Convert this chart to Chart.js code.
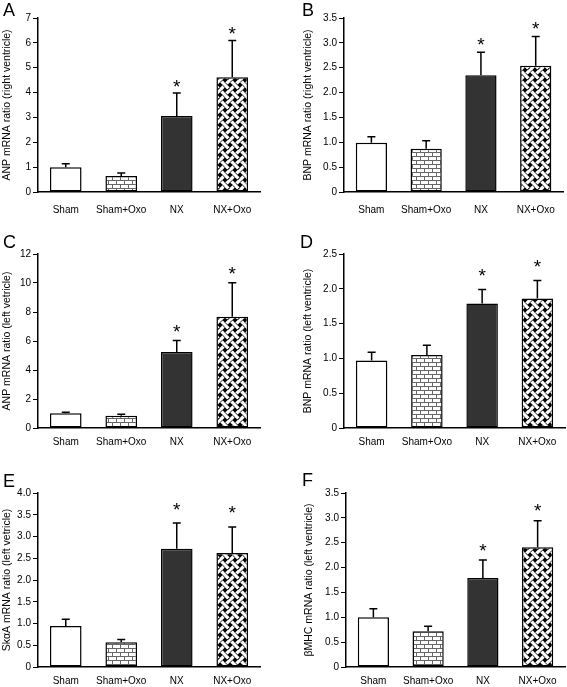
<!DOCTYPE html>
<html>
<head>
<meta charset="utf-8">
<script src="https://cdn.jsdelivr.net/npm/chart.js@4.4.1/dist/chart.umd.min.js"></script>
<style>
  body { margin: 0; background: #fff; }
  #fig { position: relative; width: 567px; height: 687px; overflow: hidden; font-family: "Liberation Sans", Arial, sans-serif; }
  #fig canvas { position: absolute; }
  .letter { position: absolute; font-size: 18px; line-height: 18px; color: #000; }
</style>
</head>
<body>
<div id="fig"></div>
<script>
const groups = ['Sham', 'Sham+Oxo', 'NX', 'NX+Oxo'];
const significant = [false, false, true, true];

// A - ANP, right ventricle
const anpRight = [1.00, 0.64, 3.06, 4.62];
const anpRightErr = [0.14, 0.12, 0.92, 1.47];
// B - BNP, right ventricle
const bnpRight = [0.99, 0.87, 2.35, 2.54];
const bnpRightErr = [0.12, 0.16, 0.46, 0.59];
// C - ANP, left ventricle
const anpLeft = [1.02, 0.85, 5.25, 7.67];
const anpLeftErr = [0.07, 0.10, 0.79, 2.35];
// D - BNP, left ventricle
const bnpLeft = [0.97, 1.05, 1.79, 1.86];
const bnpLeftErr = [0.12, 0.14, 0.20, 0.26];
// E - SkaA, left ventricle
const skaLeft = [0.94, 0.57, 2.72, 2.62];
const skaLeftErr = [0.16, 0.06, 0.59, 0.60];
// F - bMHC, left ventricle
const bmhcLeft = [1.00, 0.72, 1.79, 2.41];
const bmhcLeftErr = [0.17, 0.10, 0.36, 0.53];

const yMaxes = [7, 3.5, 12, 2.5, 4.0, 3.5];
const ySteps = [1, 0.5, 2, 0.5, 0.5, 0.5];

Chart.defaults.font.family = '"Liberation Sans", Arial, sans-serif';

// fill patterns
function brickPattern() {
    let c = document.createElement('canvas');
    c.width = 8; c.height = 8;
    let g = c.getContext('2d');
    g.fillStyle = '#fff';
    g.fillRect(0, 0, 8, 8);
    g.fillStyle = '#666';
    g.fillRect(0, 0, 8, 1);
    g.fillRect(0, 4, 8, 1);
    g.fillRect(0, 0, 1, 4);
    g.fillRect(4, 4, 1, 4);
    return g.createPattern(c, 'repeat');
}

function weavePattern() {
    let s = 10;
    let c = document.createElement('canvas');
    c.width = s; c.height = s;
    let g = c.getContext('2d');
    g.fillStyle = '#000';
    g.fillRect(0, 0, s, s);
    g.strokeStyle = '#fff';
    g.lineWidth = 3.3;
    for (let k = -1; k <= 1; k++) {
        g.beginPath();
        g.moveTo(k * s - 2, -2); g.lineTo(k * s + s + 2, s + 2);
        g.moveTo(k * s + s + 2, -2); g.lineTo(k * s - 2, s + 2);
        g.stroke();
    }
    // small breaks so the strips look woven
    g.strokeStyle = '#000';
    g.lineWidth = 0.9;
    g.beginPath();
    g.moveTo(2.4, 5.0); g.lineTo(5.0, 7.6);
    g.moveTo(5.0, 2.4); g.lineTo(7.6, 5.0);
    g.moveTo(-2.6, 0); g.lineTo(0, -2.6);
    g.moveTo(10 - 2.6, 10); g.lineTo(10, 10 - 2.6);
    g.moveTo(0, 2.6); g.lineTo(2.6, 0);
    g.moveTo(7.4, 10); g.lineTo(10, 7.4);
    g.stroke();
    return g.createPattern(c, 'repeat');
}

const barFills = ['#fff', brickPattern(), '#333', weavePattern()];

const errorBars = {
    id: 'errorBars',
    afterDatasetsDraw(chart, args, opts) {
        const ctx = chart.ctx;
        const y = chart.scales.y;
        const meta = chart.getDatasetMeta(0);
        const vals = chart.data.datasets[0].data;
        ctx.save();
        ctx.strokeStyle = '#000';
        ctx.lineWidth = 1.5;
        meta.data.forEach(function (bar, i) {
            let top = y.getPixelForValue(vals[i] + opts.err[i]);
            ctx.beginPath();
            ctx.moveTo(bar.x, bar.y);
            ctx.lineTo(bar.x, top);
            ctx.moveTo(bar.x - 4, top);
            ctx.lineTo(bar.x + 4, top);
            ctx.stroke();
            if (opts.sig[i]) {
                ctx.fillStyle = '#000';
                ctx.font = '19px "Liberation Sans", Arial, sans-serif';
                ctx.textAlign = 'center';
                ctx.textBaseline = 'alphabetic';
                let m = ctx.measureText('*');
                let cy = top - opts.starGap;
                let base = cy - (m.actualBoundingBoxDescent - m.actualBoundingBoxAscent) / 2;
                ctx.fillText('*', bar.x, base);
            }
        });
        ctx.restore();
    }
};

const panels = [
    { letter: 'A', data: anpRight, err: anpRightErr, title: 'ANP mRNA ratio (right ventricle)',
      left: 0, top: 0, w: 280, h: 230, pad: { left: 0, top: 18, right: 20, bottom: 0 }, yw: 38, xh: 38, lp: 12, lx: 3, ly: 1, gap: 10, dec: 0 },
    { letter: 'B', data: bnpRight, err: bnpRightErr, title: 'BNP mRNA ratio (right ventricle)',
      left: 280, top: 0, w: 287, h: 230, pad: { left: 21, top: 18, right: 2, bottom: 0 }, yw: 43, xh: 38, lp: 12, lx: 302, ly: 1, gap: 11, dec: 1 },
    { letter: 'C', data: anpLeft, err: anpLeftErr, title: 'ANP mRNA ratio (left vetricle)',
      left: 0, top: 230, w: 280, h: 230, pad: { left: 0, top: 24, right: 20, bottom: 0 }, yw: 38, xh: 32, lp: 8.5, lx: 3, ly: 233, gap: 12, dec: 0 },
    { letter: 'D', data: bnpLeft, err: bnpLeftErr, title: 'BNP mRNA ratio (left ventricle)',
      left: 280, top: 230, w: 287, h: 230, pad: { left: 21, top: 24, right: 2, bottom: 0 }, yw: 43, xh: 32, lp: 8.5, lx: 300, ly: 233, gap: 17, dec: 1 },
    { letter: 'E', data: skaLeft, err: skaLeftErr, title: 'SkαA mRNA ratio (left vetricle)',
      left: 0, top: 460, w: 280, h: 227, pad: { left: 0, top: 33, right: 20, bottom: 0 }, yw: 38, xh: 20, lp: 8.5, lx: 3, ly: 472, gap: 17, dec: 1 },
    { letter: 'F', data: bmhcLeft, err: bmhcLeftErr, title: 'βMHC mRNA ratio (left ventricle)',
      left: 280, top: 460, w: 287, h: 227, pad: { left: 22, top: 33, right: 2, bottom: 0 }, yw: 44, xh: 20, lp: 8.5, lx: 302, ly: 471, gap: 13, dec: 1 }
];

const fig = document.getElementById('fig');

panels.forEach(function (p, k) {
    let cv = document.createElement('canvas');
    cv.width = p.w; cv.height = p.h;
    cv.style.left = p.left + 'px';
    cv.style.top = p.top + 'px';
    fig.appendChild(cv);

    let lab = document.createElement('div');
    lab.className = 'letter';
    lab.textContent = p.letter;
    lab.style.left = p.lx + 'px';
    lab.style.top = p.ly + 'px';
    fig.appendChild(lab);

    new Chart(cv.getContext('2d'), {
        type: 'bar',
        data: {
            labels: groups,
            datasets: [{
                data: p.data,
                backgroundColor: barFills,
                borderColor: '#000',
                borderWidth: 1.5,
                borderSkipped: false,
                barPercentage: 0.57,
                categoryPercentage: 1
            }]
        },
        options: {
            responsive: false,
            animation: false,
            layout: { padding: p.pad },
            scales: {
                x: {
                    grid: { display: false, drawTicks: false },
                    border: { color: '#000', width: 1.5 },
                    ticks: { font: { size: 10 }, color: '#000', padding: p.lp, maxRotation: 0, autoSkip: false },
                    afterFit: function (s) { s.height = p.xh; }
                },
                y: {
                    min: 0,
                    max: yMaxes[k],
                    ticks: {
                        stepSize: ySteps[k],
                        font: { size: 10 },
                        color: '#000',
                        padding: 2,
                        callback: function (v) { return v === 0 ? '0' : v.toFixed(p.dec); }
                    },
                    grid: { drawOnChartArea: false, tickLength: 5, color: '#000', lineWidth: 1 },
                    border: { color: '#000', width: 1.5 },
                    title: { display: true, text: p.title, font: { size: 10.5 }, color: '#000', padding: { top: 1, bottom: 0 } },
                    afterFit: function (s) { s.width = p.yw; }
                }
            },
            plugins: {
                legend: { display: false },
                tooltip: { enabled: false },
                errorBars: { err: p.err, sig: significant, starGap: p.gap }
            }
        },
        plugins: [errorBars]
    });
});
</script>
</body>
</html>
